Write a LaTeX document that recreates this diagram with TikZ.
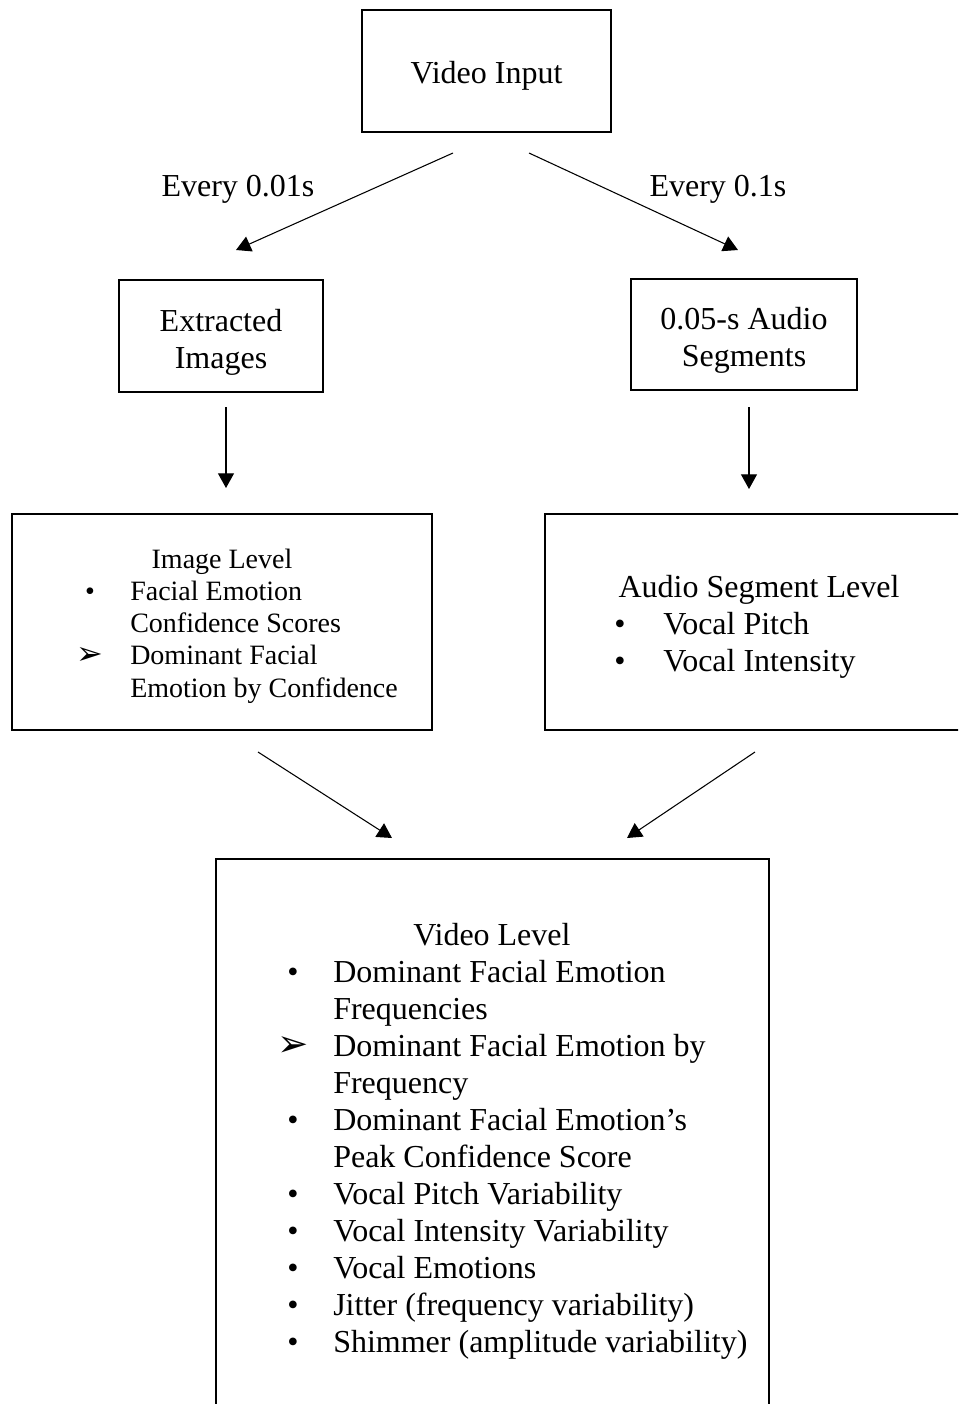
\documentclass[tikz,border=0pt]{standalone}
\usepackage{fontspec}
\setmainfont{Liberation Serif}
\newfontfamily\symfont{DejaVu Sans}
\usetikzlibrary{arrows.meta}

\newcommand{\bul}{\textbullet}
\newcommand{\arh}{{\symfont\fontsize{28}{28}\selectfont\char"27A2}}
\newcommand{\arhs}{{\symfont\fontsize{24}{24}\selectfont\char"27A2}}

\tikzset{
  box/.style={draw, line width=1.5pt, inner sep=0pt},
  arr/.style={-{Triangle[length=11pt,width=12pt]}, line width=0.8pt},
  big/.style={font=\fontsize{24}{27.75}\selectfont, inner sep=0pt, align=center},
  small/.style={font=\fontsize{21}{24.2}\selectfont, inner sep=0pt},
}

\begin{document}
\begin{tikzpicture}[x=0.75pt,y=-0.75pt]
        \useasboundingbox (0,0) rectangle (958,1404);
        \clip (0,0) rectangle (958,1404);

        %% boxes
        \node[box, minimum width=186.75pt, minimum height=91.5pt] (input) at (486.5,71) {};
        \node[box, minimum width=153pt, minimum height=84pt] (images) at (221,336) {};
        \node[box, minimum width=169.5pt, minimum height=83.25pt] (audio) at (744,334.5) {};
        \node[box, minimum width=315pt, minimum height=162pt] (imglevel) at (222,622) {};
        \node[box, minimum width=345pt, minimum height=162pt] (seglevel) at (775,622) {};
        \node[box, minimum width=414.75pt, minimum height=450.75pt] (vidlevel) at (492.5,1159.5) {};

        %% box texts
        \node[big] (inputtxt) at (486.5,76) {Video Input};
        \node[big] (imagestxt) at (221,342) {Extracted\\Images};
        \node[big] (audiotxt) at (744,340) {0.05-s Audio\\Segments};

        %% sampling labels
        \node[big, anchor=base] (every1) at (238,196) {Every 0.01s};
        \node[big, anchor=base] (every2) at (718,196) {Every 0.1s};

        %% image level list
        \node[small, anchor=base] (imghead) at (222,568) {Image Level};
        \foreach \m/\t [count=\i] in {\bul/Facial Emotion, /Confidence Scores,
                \arhs/Dominant Facial, /Emotion by Confidence} {
          \node[small, anchor=base] (imgm\i) at (90,568+32.3*\i) {\m};
          \node[small, anchor=base west] (imgt\i) at (130,568+32.3*\i) {\t};
        }

        %% audio segment level list
        \node[big, anchor=base] (seghead) at (759,597) {Audio Segment Level};
        \foreach \m/\t [count=\i] in {\bul/Vocal Pitch, \bul/Vocal Intensity} {
          \node[big, anchor=base] (segm\i) at (620,597+37*\i) {\m};
          \node[big, anchor=base west] (segt\i) at (663,597+37*\i) {\t};
        }

        %% video level list
        \node[big, anchor=base] (vidhead) at (492,945) {Video Level};
        \foreach \m/\t [count=\i] in {\bul/Dominant Facial Emotion, /Frequencies,
                \arh/Dominant Facial Emotion by, /Frequency,
                \bul/Dominant Facial Emotion’s, /Peak Confidence Score,
                \bul/Vocal Pitch Variability, \bul/Vocal Intensity Variability,
                \bul/Vocal Emotions, \bul/Jitter (frequency variability),
                \bul/Shimmer (amplitude variability)} {
          \node[big, anchor=base] (vidm\i) at (293,945+37*\i) {\m};
          \node[big, anchor=base west] (vidt\i) at (333,945+37*\i) {\t};
        }

        %% arrows
        \coordinate (a1) at (453,153);  \coordinate (b1) at (236,250);
        \coordinate (a2) at (529,153);  \coordinate (b2) at (738,250);
        \coordinate (a3) at (226,407);  \coordinate (b3) at (226,488);
        \coordinate (a4) at (749,407);  \coordinate (b4) at (749,489);
        \coordinate (a5) at (258,752);  \coordinate (b5) at (392,838);
        \coordinate (a6) at (755,752);  \coordinate (b6) at (627,838);
        \foreach \i in {1,...,6}
          \draw[arr] (a\i) -- (b\i);
\end{tikzpicture}
\end{document}
